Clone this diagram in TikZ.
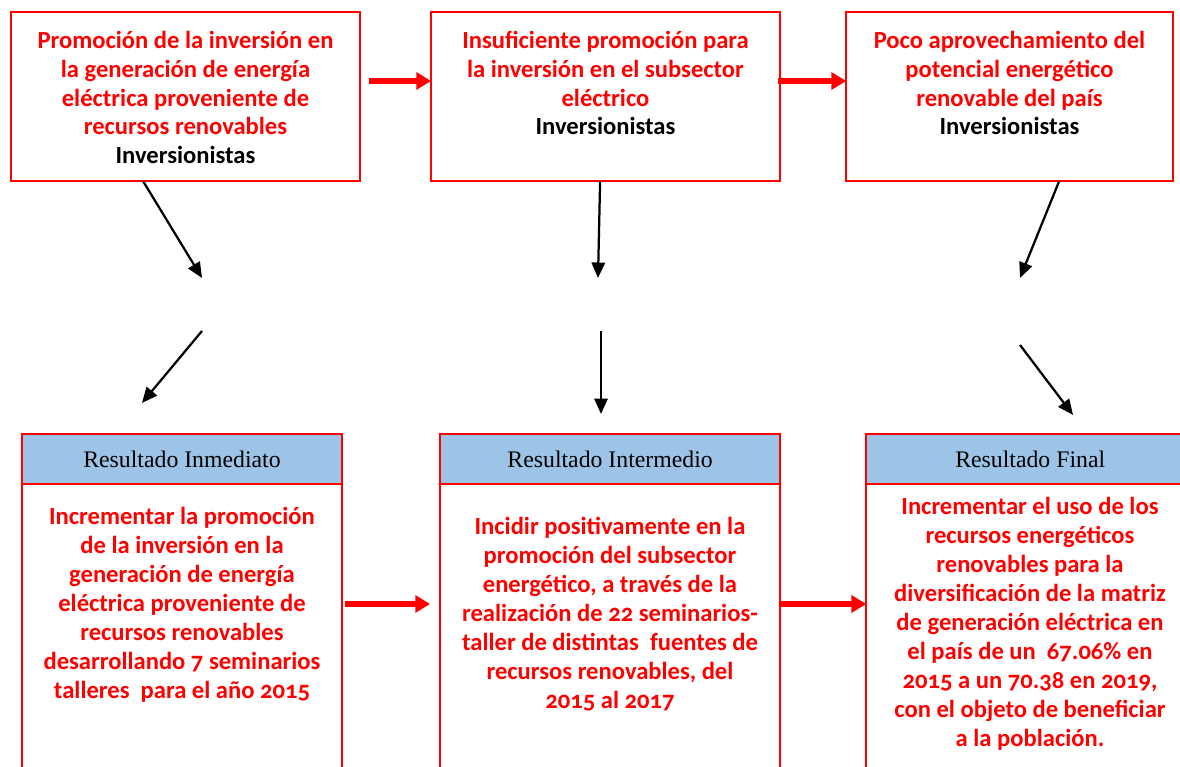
\documentclass[tikz,border=0pt]{standalone}
\usepackage{fontspec}
\setmainfont{Carlito}[Numbers=OldStyle]
\newfontfamily\serifa{Liberation Serif}
\usepackage{xcolor}
\usetikzlibrary{positioning,arrows.meta,calc}
\definecolor{crojo}{HTML}{FF0000}
\definecolor{cazul}{HTML}{9DC3E6}
\tikzset{
  cajaroja/.style={rectangle, draw=crojo, line width=1.4pt, minimum height=4.225cm,
    inner sep=0pt, outer sep=0pt},
  cabecera/.style={rectangle, draw=crojo, fill=cazul, line width=1.4pt, minimum height=1.25cm,
    inner sep=0pt, outer sep=0pt, font=\serifa\fontsize{16.9}{20}\selectfont},
  cuerpo/.style={rectangle, draw=crojo, line width=1.4pt, minimum height=7.9cm,
    inner sep=0pt, outer sep=0pt},
  texto/.style={align=center, text=crojo, inner sep=0pt, font=\fontsize{17.5}{20.6}\selectfont\bfseries},
  flecharoja/.style={-{Triangle[length=10.5pt,width=12pt]}, line width=4.2pt, draw=crojo},
  flechanegra/.style={-{Triangle[length=11pt,width=9.5pt]}, line width=1.6pt, draw=black},
}

\begin{document}
\begin{tikzpicture}[x=0.025cm, y=0.025cm]
  \useasboundingbox (0,0) rectangle (1180,767);
  \clip (0,0) rectangle (1180,767);

  % fila superior
  \node[cajaroja, minimum width=8.725cm] (sup1) at (185.5,670.5) {};
  \node[cajaroja, minimum width=8.725cm, right=1.775cm of sup1] (sup2) {};
  \node[cajaroja, minimum width=8.175cm, right=1.65cm of sup2] (sup3) {};
  \node[texto] (t1) at (185.5,669.5) {Promoción de la inversión en\\la generación de energía\\eléctrica proveniente de\\recursos renovables\\\textcolor{black}{Inversionistas}};
  \node[texto] (t2) at (605.5,684) {Insuficiente promoción para\\la inversión en el subsector\\eléctrico\\\textcolor{black}{Inversionistas}};
  \node[texto] (t3) at (1009.5,684) {Poco aprovechamiento del\\potencial energético\\renovable del país\\\textcolor{black}{Inversionistas}};

  % fila inferior
  \node[cabecera, minimum width=8cm] (hdrA) at (182,308) {Resultado Inmediato};
  \node[cabecera, minimum width=8.5cm, right=2.45cm of hdrA] (hdrB) {Resultado Intermedio};
  \node[cabecera, minimum width=8.2cm, right=2.15cm of hdrB] (hdrC) {Resultado Final};
  \node[cuerpo, minimum width=8cm, below=0pt of hdrA] (cuerpoA) {};
  \node[cuerpo, minimum width=8.5cm, below=0pt of hdrB] (cuerpoB) {};
  \node[cuerpo, minimum width=8.2cm, below=0pt of hdrC] (cuerpoC) {};
  \node[texto] (tA) at (182,162) {Incrementar la promoción\\de la inversión en la\\generación de energía\\eléctrica proveniente de\\recursos renovables\\desarrollando 7 seminarios\\talleres\ \ para el año 2015};
  \node[texto] (tB) at (610,153) {Incidir positivamente en la\\promoción del subsector\\energético, a través de la\\realización de 22 seminarios-\\taller de distintas\ \ fuentes de\\recursos renovables, del\\2015 al 2017};
  \node[texto] (tC) at (1030,143) {Incrementar el uso de los\\recursos energéticos\\renovables para la\\diversificación de la matriz\\de generación eléctrica en\\el país de un\ \ 67.06\% en\\2015 a un 70.38 en 2019,\\con el objeto de beneficiar\\a la población.};

  % puntos sueltos de las flechas
  \coordinate (m1a) at (202,489);
  \coordinate (m1b) at (202,436);
  \coordinate (f1) at (142,364);
  \coordinate (m2a) at (598,489);
  \coordinate (m2b) at (601,436);
  \coordinate (f2) at (601,353);
  \coordinate (m3a) at (1020,489);
  \coordinate (m3b) at (1020,422);
  \coordinate (f3) at (1073,352);

  \draw[flecharoja] ($(sup1.east)+(9,15.5)$) -- ($(sup2.west)+(0,15.5)$);
  \draw[flecharoja] ($(sup2.east)+(-2,15.5)$) -- ($(sup3.west)+(0,15.5)$);
  \draw[flechanegra] ($(sup1.south)+(-42.5,0)$) -- (m1a);
  \draw[flechanegra] (m1b) -- (f1);
  \draw[flechanegra] ($(sup2.south)+(-5.5,0)$) -- (m2a);
  \draw[flechanegra] (m2b) -- (f2);
  \draw[flechanegra] ($(sup3.south)+(49.5,0)$) -- (m3a);
  \draw[flechanegra] (m3b) -- (f3);
  \draw[flecharoja] ($(cuerpoA.east |- tA)+(3,1)$) -- ($(cuerpoB.west |- tA)+(-10,1)$);
  \draw[flecharoja] ($(cuerpoB.east |- tA)+(0,1)$) -- ($(cuerpoC.west |- tA)+(0,1)$);
\end{tikzpicture}
\end{document}
